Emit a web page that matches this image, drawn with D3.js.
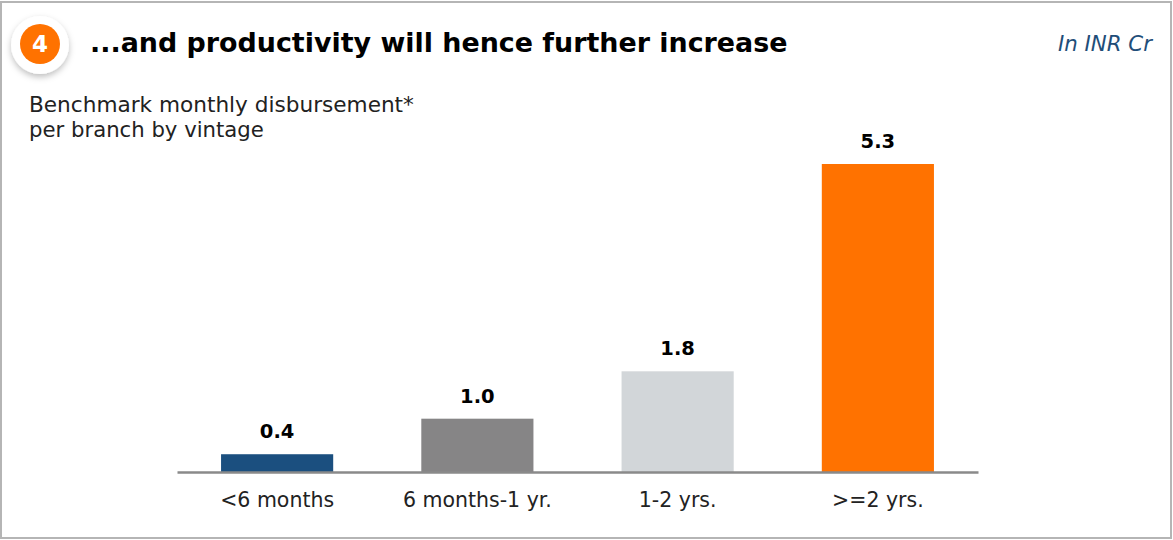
<!DOCTYPE html>
<html><head><meta charset="utf-8">
<script src="https://cdn.jsdelivr.net/npm/d3@7"></script>
<style>html,body{margin:0;padding:0;background:#fff;}svg{display:block;font-family:"DejaVu Sans",sans-serif;}</style>
</head><body><svg id="c" width="1173" height="540"></svg>
<script>
const categories = ["<6 months", "6 months-1 yr.", "1-2 yrs.", ">=2 yrs."];
const values = [0.4, 1.0, 1.8, 5.3];
const valueLabels = ["0.4", "1.0", "1.8", "5.3"];
const colors = ["#1b4f7f", "#868586", "#d2d6d9", "#ff7200"];

const svg = d3.select("#c");
const defs = svg.append("defs");
const f = defs.append("filter").attr("id","sh").attr("x","-50%").attr("y","-50%").attr("width","200%").attr("height","200%");
f.append("feDropShadow").attr("dx",0).attr("dy",3).attr("stdDeviation",3).attr("flood-color","#000").attr("flood-opacity",0.25);

svg.append("rect").attr("x",1).attr("y",2).attr("width",1170).attr("height",536)
  .attr("fill","#fff").attr("stroke","#b5b5b5").attr("stroke-width",2);

function fit(sel, w){ const n=sel.node(); const l=n.getComputedTextLength(); const fs=parseFloat(sel.attr("font-size")); sel.attr("font-size", fs*w/l); return sel; }

svg.append("circle").attr("cx",40).attr("cy",45).attr("r",29).attr("fill","#fff").attr("filter","url(#sh)");
svg.append("circle").attr("cx",40).attr("cy",44).attr("r",20).attr("fill","#ff7200");
svg.append("text").attr("x",40).attr("y",44).attr("dy","0.36em").attr("text-anchor","middle")
  .attr("fill","#fff").attr("font-weight","bold").attr("font-size",23).text("4");

fit(svg.append("text").attr("x",90).attr("y",52).attr("font-weight","bold").attr("font-size",27).attr("fill","#000")
  .text("...and productivity will hence further increase"), 698);
fit(svg.append("text").attr("x",1152).attr("y",51).attr("text-anchor","end").attr("font-style","italic")
  .attr("font-size",19).attr("fill","#1f4e79").text("In INR Cr"), 94);

fit(svg.append("text").attr("x",29).attr("y",112).attr("font-size",19).attr("fill","#222").text("Benchmark monthly disbursement*"), 385);
fit(svg.append("text").attr("x",29).attr("y",137).attr("font-size",19).attr("fill","#222").text("per branch by vintage"), 235);

const x = d3.scaleBand().domain(categories).range([177, 978]).paddingInner(0.44).paddingOuter(0.22);
const y = d3.scaleLinear().domain([0.1, 5.3]).range([472, 164]);

svg.selectAll("rect.bar").data(values).join("rect").attr("class","bar")
  .attr("x",(d,i)=>x(categories[i])).attr("width",x.bandwidth())
  .attr("y",d=>y(d)).attr("height",d=>y(0.1)-y(d)).attr("fill",(d,i)=>colors[i]);

svg.selectAll("text.val").data(values).join("text").attr("class","val")
  .attr("x",(d,i)=>x(categories[i])+x.bandwidth()/2).attr("y",d=>y(d)-16)
  .attr("text-anchor","middle").attr("font-weight","bold").attr("font-size",19.5).attr("fill","#000")
  .text((d,i)=>valueLabels[i]);

const ax = svg.append("g").attr("transform","translate(0,472)").call(d3.axisBottom(x).tickSize(0).tickPadding(20));
ax.select(".domain").attr("stroke","#8a8a8a").attr("stroke-width",2.5);
ax.selectAll("text").attr("font-size",20.5).attr("fill","#222").attr("font-family","DejaVu Sans, sans-serif");
</script></body></html>
